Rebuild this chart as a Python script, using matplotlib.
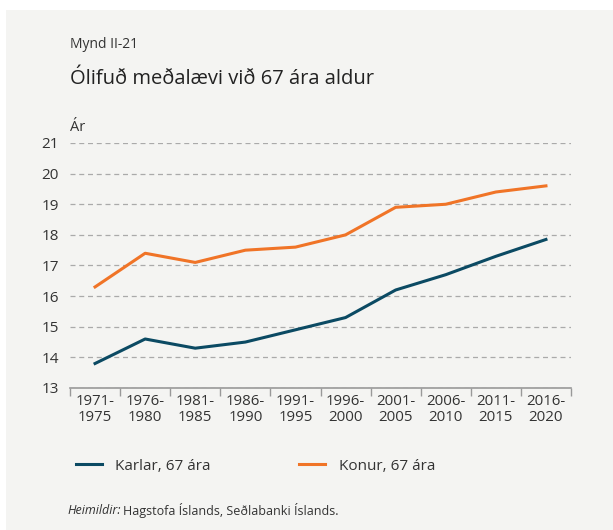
import matplotlib.pyplot as plt
from matplotlib.patches import Rectangle

plt.rcParams['font.family'] = ['Open Sans', 'DejaVu Sans']

# Data
periods = ['1971-\n1975', '1976-\n1980', '1981-\n1985', '1986-\n1990', '1991-\n1995',
           '1996-\n2000', '2001-\n2005', '2006-\n2010', '2011-\n2015', '2016-\n2020']
karlar = [13.8, 14.6, 14.3, 14.5, 14.9, 15.3, 16.2, 16.7, 17.3, 17.85]
konur = [16.3, 17.4, 17.1, 17.5, 17.6, 18.0, 18.9, 19.0, 19.4, 19.6]
yticks = [13, 14, 15, 16, 17, 18, 19, 20, 21]

bg = '#f4f4f2'
txt = '#333333'
blue = '#0b4a63'
orange = '#f07427'

fig = plt.figure(figsize=(6.13, 5.3), dpi=100)
fig.patch.set_facecolor('white')
fig.patches.append(Rectangle((6 / 613, 0), 1, 1 - 10 / 530, transform=fig.transFigure,
                             facecolor=bg, edgecolor='none', zorder=-10))

ax = fig.add_axes([70 / 613, 1 - 388 / 530, 501 / 613, 245 / 530])
ax.set_facecolor(bg)

x = list(range(len(periods)))
l1, = ax.plot(x, karlar, color=blue, lw=2.2, label='Karlar, 67 ára')
l2, = ax.plot(x, konur, color=orange, lw=2.2, label='Konur, 67 ára')

ax.set_xlim(-0.5, len(periods) - 0.5)
ax.set_ylim(13, 21)
ax.set_yticks(yticks)
ax.yaxis.grid(True, linestyle=(0, (4, 3)), color='#aaaaaa', lw=0.9)
ax.set_axisbelow(True)
ax.tick_params(axis='y', length=0, labelsize=11, colors=txt, pad=8)

ax.set_xticks([i - 0.5 for i in range(len(periods) + 1)])
ax.set_xticklabels([])
ax.set_xticks(x, minor=True)
ax.set_xticklabels(periods, minor=True, fontsize=10.8, color=txt, linespacing=1.15)
ax.tick_params(axis='x', which='major', length=6, color='#999999', width=1)
ax.tick_params(axis='x', which='minor', length=0, pad=4)

for s in ['top', 'right', 'left']:
    ax.spines[s].set_visible(False)
ax.spines['bottom'].set_color('#999999')
ax.spines['bottom'].set_linewidth(1.2)

fig.text(70 / 613, 1 - 45 / 530, 'Mynd II-21', fontsize=10, color=txt, va='center')
fig.text(70 / 613, 1 - 79 / 530, 'Ólifuð meðalævi við 67 ára aldur', fontsize=14.5,
         color='#222222', va='center')
fig.text(70 / 613, 1 - 127 / 530, 'Ár', fontsize=10.5, color=txt, va='center')

fig.legend(handles=[l1, l2], loc='center left', bbox_to_anchor=(62 / 613, 1 - 466 / 530),
           ncol=2, frameon=False, fontsize=11, handlelength=1.7, handletextpad=0.9,
           columnspacing=5.75, labelcolor=txt)

src1 = fig.text(67 / 613, 1 - 511 / 530, 'Heimildir:', fontsize=9, style='italic',
                color=txt, va='center')
fig.canvas.draw()
bb = src1.get_window_extent()
fig.text(bb.x1 / 613 + 3 / 613, 1 - 511 / 530, 'Hagstofa Íslands, Seðlabanki Íslands.',
         fontsize=9, color=txt, va='center')

plt.savefig('out.png', dpi=100, facecolor=fig.get_facecolor())
